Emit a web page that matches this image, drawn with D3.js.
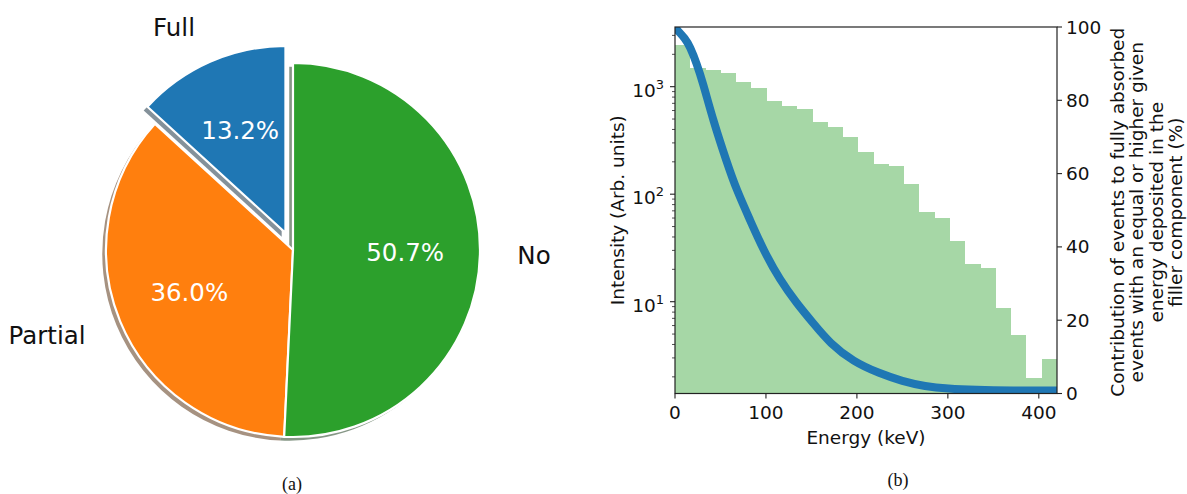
<!doctype html>
<html lang="en">
  <head>
    <meta charset="UTF-8">
    <title>Pie and energy spectrum</title>
    <style>
      body { margin: 0; background: #fff; }
      text { font-family: "DejaVu Sans", sans-serif; fill: #111; }
      .caption { font-family: "Liberation Serif", "DejaVu Serif", serif; font-size: 18px; }
      .axis-text { font-size: 18.5px; }
    </style>
  </head>
  <body>
    <svg width="1187" height="494"></svg>
    <script src="https://d3js.org/d3.v7.min.js"></script>
    <script>

      // pie data (a), shares in %
      var pieLabels = ["Full", "Partial", "No"];
      var pieValues = [13.2, 36.0, 50.7];
      var pieColors = ["#1f77b4", "#ff7f0e", "#2ca02c"];
      var pieExplode = [0.1, 0, 0];

      // histogram (b): bin starts in keV, share in % (right axis)
      var binStart = [0, 16.8, 33.6, 50.4, 67.2, 84, 100.8, 117.6, 134.4, 151.2, 168, 184.8, 201.6,
                      218.4, 235.2, 252, 268.8, 285.6, 302.4, 319.2, 336, 352.8, 369.6, 386.4, 403.2];
      var binWidth = 16.8;
      var binShare = [95, 88.9, 88.3, 87.4, 85.1, 83.4, 79.8, 78.5, 77.5, 74.0, 72.6, 69.9, 65.8,
                      62.6, 62.1, 57.1, 49.4, 47.8, 41.7, 35.3, 34.3, 23.2, 16.0, 4.1, 9.4];

      // spectrum curve (left axis, log)
      var curveEnergy = [0, 2.2, 11, 16.5, 23.8, 30.8, 41.8, 57.2, 67.8, 82.5, 97.1, 115.4, 133.8,
                         152, 170.4, 196, 225, 250, 275, 300, 330, 370, 420];
      var curveIntensity = [3600, 3370, 2820, 2355, 1650, 1083, 490, 195, 109, 57.5, 30.3, 15.9, 9.66,
                            6.3, 4.1, 2.77, 2.15, 1.82, 1.63, 1.55, 1.51, 1.49, 1.49];

      var xTicks = [0, 100, 200, 300, 400];
      var leftTicks = [10, 100, 1000];
      var rightTicks = [0, 20, 40, 60, 80, 100];

      var svg = d3.select("svg");

      /* ---------- (a) pie ---------- */
      var cx = 293, cy = 250, r = 187;

      var pie = d3.pie()
              .sort(null)
              .startAngle(0)
              .endAngle(-2 * Math.PI)
              .value(function (d) { return d; });

      var arcs = pie(pieValues);
      var arc = d3.arc().innerRadius(0).outerRadius(r);

      function midAngle(d) {
        return (d.startAngle + d.endAngle) / 2;
      }

      function offset(d, i) {
        var a = midAngle(d), k = pieExplode[i] * r;
        return [Math.sin(a) * k, -Math.cos(a) * k];
      }

      var pg = svg.append("g").attr("transform", "translate(" + cx + "," + cy + ")");

      // shadows first, below every wedge
      pg.selectAll("path.shadow")
              .data(arcs)
              .enter().append("path")
              .attr("class", "shadow")
              .attr("d", arc)
              .attr("transform", function (d, i) {
                var o = offset(d, i);
                return "translate(" + (o[0] - 0.02 * r) + "," + (o[1] + 0.02 * r) + ")";
              })
              .style("fill", function (d, i) {
                var c = d3.rgb(pieColors[i]);
                return d3.rgb(c.r * 0.3, c.g * 0.3, c.b * 0.3);
              })
              .style("fill-opacity", 0.5);

      pg.selectAll("path.wedge")
              .data(arcs)
              .enter().append("path")
              .attr("class", "wedge")
              .attr("d", arc)
              .attr("transform", function (d, i) {
                var o = offset(d, i);
                return "translate(" + o[0] + "," + o[1] + ")";
              })
              .style("fill", function (d, i) { return pieColors[i]; })
              .style("stroke", "#fff")
              .style("stroke-width", 2.2)
              .style("stroke-linejoin", "round");

      // outer labels
      pg.selectAll("text.plabel")
              .data(arcs)
              .enter().append("text")
              .attr("class", "plabel")
              .attr("x", function (d, i) { return offset(d, i)[0] + Math.sin(midAngle(d)) * 1.2 * r; })
              .attr("y", function (d, i) { return offset(d, i)[1] - Math.cos(midAngle(d)) * 1.2 * r; })
              .attr("text-anchor", function (d) { return Math.sin(midAngle(d)) < 0 ? "end" : "start"; })
              .attr("dominant-baseline", "central")
              .style("font-size", "24.5px")
              .text(function (d, i) { return pieLabels[i]; });

      // percentages
      pg.selectAll("text.pct")
              .data(arcs)
              .enter().append("text")
              .attr("class", "pct")
              .attr("x", function (d, i) { return offset(d, i)[0] + Math.sin(midAngle(d)) * 0.6 * r; })
              .attr("y", function (d, i) { return offset(d, i)[1] - Math.cos(midAngle(d)) * 0.6 * r; })
              .attr("text-anchor", "middle")
              .attr("dominant-baseline", "central")
              .style("font-size", "24.5px")
              .style("fill", "#fff")
              .text(function (d) { return d3.format(".1f")(d.value) + "%"; });

      svg.append("text").attr("class", "caption")
              .attr("x", 292).attr("y", 490).attr("text-anchor", "middle").text("(a)");

      /* ---------- (b) spectrum ---------- */
      var pLeft = 675, pRight = 1057, pTop = 27, pBottom = 393.5;

      var x = d3.scaleLinear().domain([0, 420]).range([pLeft, pRight]);
      var yLog = d3.scaleLog().domain([1.4, 3590]).range([pBottom, pTop]);
      var yPct = d3.scaleLinear().domain([0, 100]).range([pBottom, pTop]);

      svg.append("clipPath").attr("id", "plot")
              .append("rect")
              .attr("x", pLeft).attr("y", pTop)
              .attr("width", pRight - pLeft).attr("height", pBottom - pTop);

      var plot = svg.append("g").attr("clip-path", "url(#plot)");

      plot.selectAll("rect.bin")
              .data(binShare)
              .enter().append("rect")
              .attr("class", "bin")
              .attr("x", function (d, i) { return x(binStart[i]); })
              .attr("width", function (d, i) { return x(binStart[i] + binWidth) - x(binStart[i]); })
              .attr("y", function (d) { return yPct(d); })
              .attr("height", function (d) { return yPct(0) - yPct(d); })
              .style("fill", "#2ca02c")
              .style("fill-opacity", 0.42)
              .style("shape-rendering", "crispEdges");

      var line = d3.line()
              .x(function (d, i) { return x(curveEnergy[i]); })
              .y(function (d) { return yLog(d); })
              .curve(d3.curveBasis);

      plot.append("path")
              .attr("d", line(curveIntensity))
              .style("fill", "none")
              .style("stroke", "#1f77b4")
              .style("stroke-width", 8);

      // frame
      svg.append("rect")
              .attr("x", pLeft).attr("y", pTop)
              .attr("width", pRight - pLeft).attr("height", pBottom - pTop)
              .style("fill", "none").style("stroke", "#222").style("stroke-width", 1.2);

      // bottom axis
      var gx = svg.append("g").attr("class", "axis-text");
      gx.selectAll("line").data(xTicks).enter().append("line")
              .attr("x1", x).attr("x2", x).attr("y1", pBottom).attr("y2", pBottom + 5)
              .style("stroke", "#222").style("stroke-width", 1.1);
      gx.selectAll("text").data(xTicks).enter().append("text")
              .attr("x", x).attr("y", pBottom + 25).attr("text-anchor", "middle")
              .text(function (d) { return d; });
      svg.append("text").attr("class", "axis-text")
              .attr("x", (pLeft + pRight) / 2).attr("y", 444).attr("text-anchor", "middle")
              .text("Energy (keV)");

      // left log axis
      var minor = yLog.ticks().filter(function (d) { return leftTicks.indexOf(d) < 0; });
      var gl = svg.append("g").attr("class", "axis-text");
      gl.selectAll("line.minor").data(minor).enter().append("line")
              .attr("class", "minor")
              .attr("x1", pLeft - 3).attr("x2", pLeft).attr("y1", yLog).attr("y2", yLog)
              .style("stroke", "#222").style("stroke-width", 0.8);
      gl.selectAll("line.major").data(leftTicks).enter().append("line")
              .attr("class", "major")
              .attr("x1", pLeft - 5).attr("x2", pLeft).attr("y1", yLog).attr("y2", yLog)
              .style("stroke", "#222").style("stroke-width", 1.1);
      var lt = gl.selectAll("text").data(leftTicks).enter().append("text")
              .attr("x", pLeft - 11).attr("y", function (d) { return yLog(d) + 10; })
              .attr("text-anchor", "end");
      lt.append("tspan").text("10");
      lt.append("tspan").attr("dy", -8).style("font-size", "13px")
              .text(function (d) { return Math.round(Math.log10(d)); });
      svg.append("text").attr("class", "axis-text")
              .attr("transform", "translate(617," + (pTop + pBottom) / 2 + ") rotate(-90)")
              .attr("text-anchor", "middle").attr("dominant-baseline", "central")
              .text("Intensity (Arb. units)");

      // right axis
      var gr = svg.append("g").attr("class", "axis-text");
      gr.selectAll("line").data(rightTicks).enter().append("line")
              .attr("x1", pRight).attr("x2", pRight + 5).attr("y1", yPct).attr("y2", yPct)
              .style("stroke", "#222").style("stroke-width", 1.1);
      gr.selectAll("text").data(rightTicks).enter().append("text")
              .attr("x", pRight + 9).attr("y", function (d) { return yPct(d) + 6.5; })
              .text(function (d) { return d; });

      var rightLabel = ["Contribution of events to fully absorbed",
                        "events with an equal or higher given",
                        "energy deposited in the",
                        "filler component (%)"];
      var rl = svg.append("text").attr("class", "axis-text")
              .attr("transform", "translate(1117," + ((pTop + pBottom) / 2 + 2) + ") rotate(-90)")
              .attr("text-anchor", "middle").attr("dominant-baseline", "central");
      rl.selectAll("tspan").data(rightLabel).enter().append("tspan")
              .attr("x", 0).attr("y", function (d, i) { return i * 19.4; })
              .text(function (d) { return d; });

      svg.append("text").attr("class", "caption")
              .attr("x", 898).attr("y", 486).attr("text-anchor", "middle").text("(b)");

    </script>
  </body>
</html>
